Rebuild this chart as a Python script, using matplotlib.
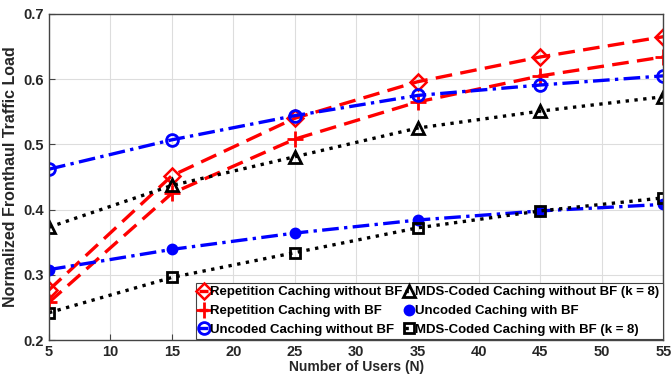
import matplotlib.pyplot as plt

plt.rcParams['font.family'] = ['Liberation Sans', 'DejaVu Sans']
plt.rcParams['font.weight'] = 'bold'

users = [5, 15, 25, 35, 45, 55]

rep_no_bf = [0.277, 0.452, 0.540, 0.596, 0.634, 0.665]
rep_bf = [0.258, 0.425, 0.508, 0.565, 0.605, 0.634]
unc_no_bf = [0.462, 0.507, 0.544, 0.575, 0.591, 0.605]
mds_no_bf = [0.373, 0.437, 0.481, 0.525, 0.551, 0.573]
unc_bf = [0.308, 0.339, 0.364, 0.384, 0.398, 0.408]
mds_bf = [0.242, 0.296, 0.334, 0.372, 0.398, 0.418]

fig = plt.figure(figsize=(6.72, 3.86), dpi=100)
ax = fig.add_axes([0.073, 0.119, 0.914, 0.845])

lw = 2.4
ax.plot(users, rep_no_bf, '--', color='red', lw=lw, marker='D', ms=8, mfc='none', mew=1.8,
        dashes=(5, 2.5), label='Repetition Caching without BF')
ax.plot(users, rep_bf, '--', color='red', lw=lw, marker='+', ms=11, mew=2,
        dashes=(5, 2.5), label='Repetition Caching with BF')
ax.plot(users, unc_no_bf, '-.', color='blue', lw=lw, marker='o', ms=8.5, mfc='none', mew=2,
        dashes=(5, 1.6, 1, 1.6), label='Uncoded Caching without BF')
ax.plot(users, mds_no_bf, ':', color='black', lw=lw, marker='^', ms=9, mfc='none', mew=2,
        label='MDS-Coded Caching without BF (k = 8)')
ax.plot(users, unc_bf, '-.', color='blue', lw=lw, marker='o', ms=7, mew=1.5,
        dashes=(5, 1.6, 1, 1.6), label='Uncoded Caching with BF')
ax.plot(users, mds_bf, ':', color='black', lw=lw, marker='s', ms=7, mfc='none', mew=2,
        label='MDS-Coded Caching with BF (k = 8)')

ax.set_xlim(5, 55)
ax.set_ylim(0.2, 0.7)
ax.set_xticks(range(5, 56, 5))
ax.set_yticks([0.2, 0.3, 0.4, 0.5, 0.6, 0.7])
ax.set_yticklabels(['0.2', '0.3', '0.4', '0.5', '0.6', '0.7'])
ax.tick_params(labelsize=10.5, direction='in', length=4, color='#444444', labelcolor='#262626')
ax.grid(True, color='#dddddd', lw=0.8)
for s in ax.spines.values():
    s.set_color('#444444')
    s.set_linewidth(1)

ax.set_xlabel('Number of Users (N)', fontsize=10, fontweight='bold', labelpad=1, color='#262626')
ax.set_ylabel('Normalized Fronthaul Traffic Load', fontsize=11.5, fontweight='bold', labelpad=4,
              color='#262626')

leg = ax.legend(loc='lower right', ncol=2, fontsize=9.5, handlelength=0.7, handletextpad=0.1,
                columnspacing=0.2, borderpad=0.25, labelspacing=0.5, borderaxespad=0.05,
                fancybox=False, edgecolor='#444444', framealpha=1)
leg.get_frame().set_linewidth(0.8)

fig.savefig('out.png', dpi=100)
